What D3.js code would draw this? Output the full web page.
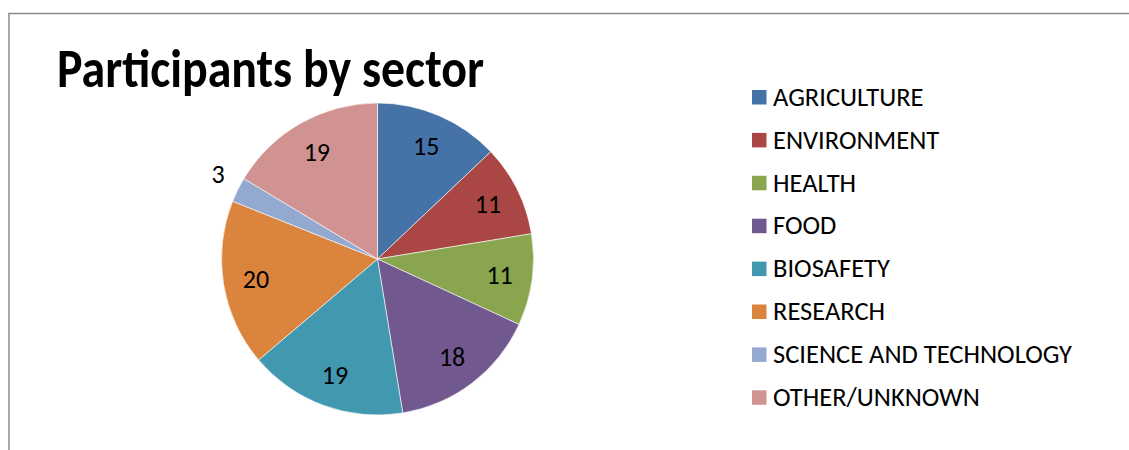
<!DOCTYPE html>
<html>
<head>
<meta charset="utf-8">
<script src="https://cdn.jsdelivr.net/npm/d3@7"></script>
<style>
  body { margin: 0; background: #fff; }
  svg { display: block; font-family: Carlito, Calibri, Lato, sans-serif; }
</style>
</head>
<body>
<div id="chart"></div>
<script>
const sectors = ["AGRICULTURE", "ENVIRONMENT", "HEALTH", "FOOD", "BIOSAFETY", "RESEARCH", "SCIENCE AND TECHNOLOGY", "OTHER/UNKNOWN"];
const participants = [15, 11, 11, 18, 19, 20, 3, 19];
const colors = ["#4572A7", "#AA4643", "#89A54E", "#71588F", "#4198AF", "#DB843D", "#93A9CF", "#D19392"];

const width = 1129, height = 450;
const cx = 377.5, cy = 259, radius = 156;

const svg = d3.select("#chart")
    .append("svg")
    .attr("width", width)
    .attr("height", height);

// Chart frame (top and left edges visible)
svg.append("path")
    .attr("d", `M9,${height} L9,13.5 L${width},13.5`)
    .attr("fill", "none")
    .attr("stroke", "#8a8a8a")
    .attr("stroke-width", 1.5);

// Title
svg.append("text")
    .attr("x", 57)
    .attr("y", 87)
    .attr("textLength", 427)
    .attr("lengthAdjust", "spacingAndGlyphs")
    .style("font-size", "54px")
    .style("font-weight", "bold")
    .style("fill", "#000")
    .text("Participants by sector");

const color = d3.scaleOrdinal().domain(sectors).range(colors);

const pie = d3.pie().sort(null).value(d => d.value);
const arcs = pie(sectors.map((s, i) => ({ name: s, value: participants[i] })));

const arc = d3.arc().innerRadius(0).outerRadius(radius);
const labelArc = d3.arc().innerRadius(radius * 0.79).outerRadius(radius * 0.79);
const outerArc = d3.arc().innerRadius(radius + 22).outerRadius(radius + 22);

const g = svg.append("g").attr("transform", `translate(${cx},${cy})`);

g.selectAll(".slice")
    .data(arcs)
    .enter().append("path")
    .attr("class", "slice")
    .attr("d", arc)
    .attr("fill", d => color(d.data.name))
    .attr("stroke", "#fff")
    .attr("stroke-width", 0.6);

// Data labels: inside, except tiny slices which go outside
g.selectAll(".label")
    .data(arcs)
    .enter().append("text")
    .attr("class", "label")
    .attr("transform", d => {
        const c = (d.data.value < 5 ? outerArc : labelArc).centroid(d);
        return `translate(${c[0]},${c[1] - (d.data.value < 5 ? 6 : 0)})`;
    })
    .attr("text-anchor", "middle")
    .attr("dy", "0.34em")
    .style("font-size", "26px")
    .style("fill", "#000")
    .text(d => d.data.value);

// Legend
const legend = svg.append("g").attr("transform", "translate(752,97)");

const item = legend.selectAll(".legend-item")
    .data(sectors)
    .enter().append("g")
    .attr("class", "legend-item")
    .attr("transform", (d, i) => `translate(0,${i * 42.9})`);

item.append("rect")
    .attr("x", 0)
    .attr("y", -7)
    .attr("width", 14.5)
    .attr("height", 14.5)
    .attr("fill", d => color(d));

item.append("text")
    .attr("x", 21)
    .attr("y", 0)
    .attr("dy", "0.33em")
    .style("font-size", "26.5px")
    .style("fill", "#000")
    .text(d => d);
</script>
</body>
</html>
